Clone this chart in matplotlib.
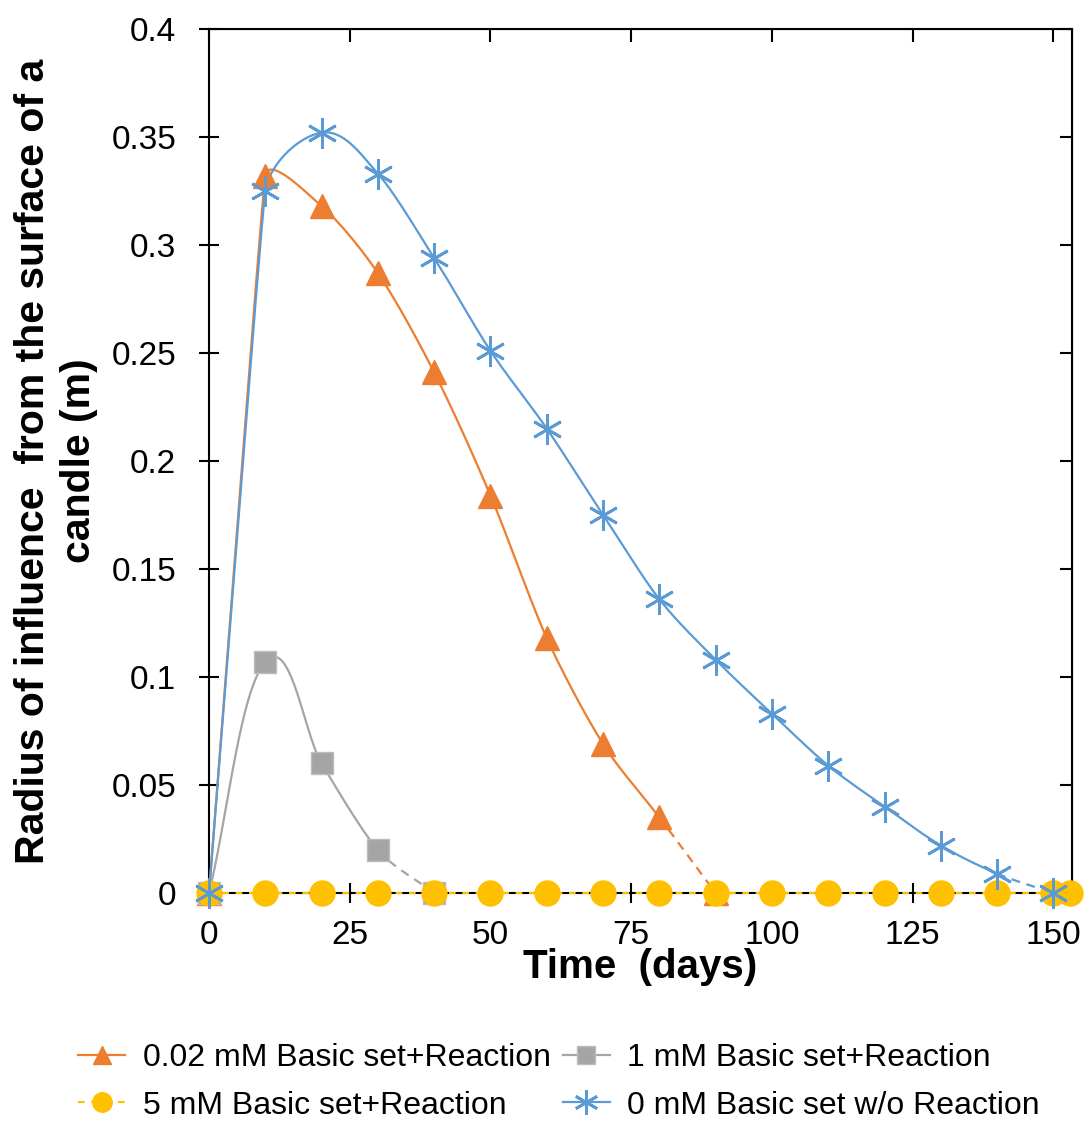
#!/usr/bin/env python3

import numpy as np
import matplotlib
matplotlib.use("Agg")
import matplotlib.pyplot as plt

plt.rcParams['font.family'] = ['Liberation Sans', 'DejaVu Sans']

# data
days_orange = [0, 10, 20, 30, 40, 50, 60, 70, 80, 90]
r_orange = [0, 0.332, 0.318, 0.287, 0.241, 0.184, 0.118, 0.069, 0.035, 0]

days_gray = [0, 10, 20, 30, 40]
r_gray = [0, 0.107, 0.060, 0.020, 0]

days_yellow = [0, 10, 20, 30, 40, 50, 60, 70, 80, 90, 100, 110, 120, 130,
               140, 150, 153]
r_yellow = [0] * len(days_yellow)

days_blue = [0, 10, 20, 30, 40, 50, 60, 70, 80, 90, 100, 110, 120, 130,
             140, 150]
r_blue = [0, 0.325, 0.352, 0.333, 0.294, 0.251, 0.215, 0.175, 0.136, 0.108,
          0.083, 0.059, 0.040, 0.022, 0.009, 0]

labels = ["0.02 mM Basic set+Reaction", "1 mM Basic set+Reaction",
          "5 mM Basic set+Reaction", "0 mM Basic set w/o Reaction"]
xticks = [0, 25, 50, 75, 100, 125, 150]
yticks = [0, 0.05, 0.1, 0.15, 0.2, 0.25, 0.3, 0.35, 0.4]
ytick_labels = ["0", "0.05", "0.1", "0.15", "0.2", "0.25", "0.3", "0.35", "0.4"]

# rough screen scale (px per unit) so smoothing behaves like the spreadsheet
SX, SY = 5.63, 2157.0


def smooth(x, y, n=40):
    """ smoothed bezier segments, tangent arms limited by the shorter side """
    pts = np.column_stack([np.asarray(x) * SX, np.asarray(y) * SY])
    ext = np.vstack([pts[0], pts, pts[-1]])
    t = np.linspace(0, 1, n)[:, None]
    segs = []
    for i in range(len(pts) - 1):
        p0, p1, p2, p3 = ext[i], ext[i + 1], ext[i + 2], ext[i + 3]
        d01 = np.linalg.norm(p1 - p0)
        d12 = np.linalg.norm(p2 - p1)
        d23 = np.linalg.norm(p3 - p2)
        t1 = (p2 - p0) / np.linalg.norm(p2 - p0)
        t2 = (p3 - p1) / np.linalg.norm(p3 - p1)
        a1 = min(d01, d12) if d01 > 0 else d12
        a2 = min(d12, d23) if d23 > 0 else d12
        c1 = p1 + t1 * a1 / 3
        c2 = p2 - t2 * a2 / 3
        seg = ((1 - t) ** 3 * p1 + 3 * (1 - t) ** 2 * t * c1
               + 3 * (1 - t) * t ** 2 * c2 + t ** 3 * p2)
        segs.append(seg / [SX, SY])
    return segs


def draw_series(ax, x, y, color, marker, ms, label, mec=None, mew=1.0,
                mz=4):
    segs = smooth(x, y)
    solid = np.vstack(segs[:-1])
    ax.plot(solid[:, 0], solid[:, 1], color=color, lw=1.6, zorder=3)
    ax.plot(segs[-1][:, 0], segs[-1][:, 1], color=color, lw=1.6,
            ls=(0, (4, 3)), zorder=3)
    ax.plot(x, y, ls='none', marker=marker, ms=ms, color=color,
            mec=mec or color, mew=mew, clip_on=False, zorder=mz)
    # legend proxy
    h, = ax.plot([], [], color=color, lw=1.6, marker=marker, ms=ms * 0.8,
                 mec=mec or color, mew=mew, label=label)
    return h


fig = plt.figure(figsize=(10.88, 11.27), dpi=100)
ax = fig.add_axes([0.1921, 0.2076, 0.7932, 0.7667])

h1 = draw_series(ax, days_orange, r_orange, '#ED7D31', '^', 17, labels[0])
h2 = draw_series(ax, days_gray, r_gray, '#A5A5A5', 's', 16, labels[1],
                 mec='#BDBDBD')
ax.plot(days_yellow, r_yellow, color='#FFC000', lw=1.6, ls=(0, (3, 3)),
        marker='o', ms=18, clip_on=False, zorder=5)
h3, = ax.plot([], [], color='#FFC000', lw=1.6, ls=(0, (3, 3)), marker='o',
              ms=14, label=labels[2])
h4 = draw_series(ax, days_blue, r_blue, '#5B9BD5', (6, 2, 0), 22, labels[3],
                 mew=2.0, mz=6)

ax.set_xlim(0, 153.3)
ax.set_ylim(0, 0.4)
ax.set_xticks(xticks)
ax.set_yticks(yticks)
ax.set_yticklabels(ytick_labels)
for s in ax.spines.values():
    s.set_linewidth(1.5)
ax.tick_params(direction='inout', length=15, width=1.5, labelsize=24)
ax.tick_params(axis='y', pad=16)
ax.tick_params(axis='x', pad=12)

top = ax.secondary_xaxis('top')
top.set_xticks(xticks)
top.tick_params(direction='in', length=9, width=1.5, labeltop=False)
right = ax.secondary_yaxis('right')
right.set_yticks(yticks)
right.tick_params(direction='in', length=9, width=1.5, labelright=False)

ax.set_xlabel("Time  (days)", fontsize=29, fontweight='bold', labelpad=-2)
ax.set_ylabel("Radius of influence  from the surface of a\ncandle (m)",
              fontsize=29.5, fontweight='bold', labelpad=10, linespacing=1.25)

fig.legend(handles=[h1, h3, h2, h4], loc='lower center',
           bbox_to_anchor=(0.514, 0.0), ncol=2, frameon=False, fontsize=23,
           handlelength=1.47, handletextpad=0.55, columnspacing=0.37,
           borderaxespad=0.0, borderpad=0.2, labelspacing=0.55)

fig.savefig("out.png", dpi=100)
